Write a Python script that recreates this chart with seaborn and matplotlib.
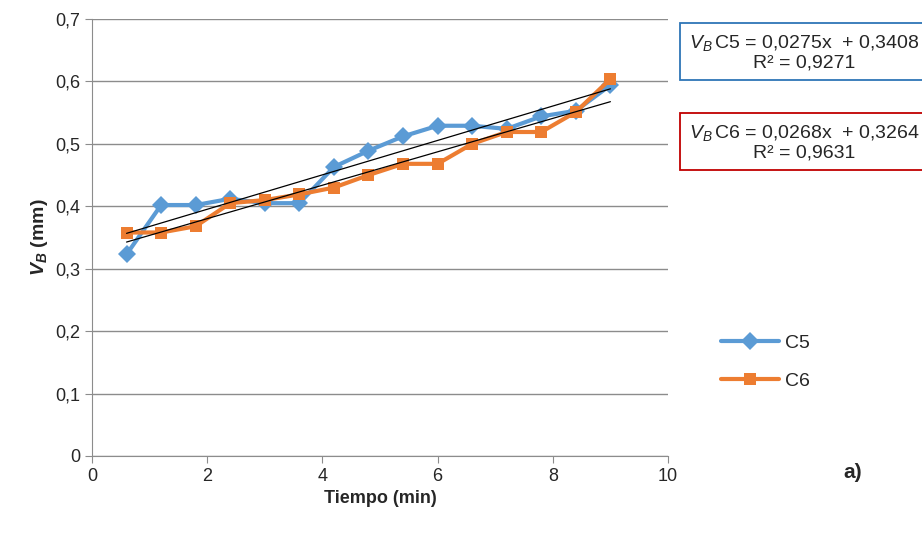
import numpy as np
import pandas as pd
import seaborn as sns
import matplotlib.pyplot as plt
from matplotlib.ticker import FuncFormatter

# tiempo de mecanizado (min) y desgaste VB (mm)
tiempo = [0.6, 1.2, 1.8, 2.4, 3.0, 3.6, 4.2, 4.8, 5.4, 6.0, 6.6, 7.2, 7.8, 8.4, 9.0]
vb_c5 = [0.323, 0.402, 0.402, 0.412, 0.405, 0.405, 0.463, 0.489, 0.512, 0.529, 0.529, 0.524, 0.544, 0.553, 0.594]
vb_c6 = [0.358, 0.358, 0.368, 0.405, 0.410, 0.419, 0.430, 0.450, 0.468, 0.468, 0.500, 0.519, 0.519, 0.551, 0.604]
ecuaciones = ["$V_B\\,$C5 = 0,0275x  + 0,3408\nR² = 0,9271",
              "$V_B\\,$C6 = 0,0268x  + 0,3264\nR² = 0,9631"]

sns.set_style("white")
plt.rcParams['font.family'] = ['Liberation Sans Narrow', 'Liberation Sans', 'DejaVu Sans']
plt.rcParams['mathtext.fontset'] = 'custom'
plt.rcParams['mathtext.it'] = 'Liberation Sans:italic'
plt.rcParams['mathtext.rm'] = 'Liberation Sans'
plt.rcParams['mathtext.bfit'] = 'Liberation Sans:italic:bold'
plt.rcParams['mathtext.bf'] = 'Liberation Sans:bold'

df = pd.DataFrame({'Tiempo': tiempo * 2,
                   'VB': vb_c5 + vb_c6,
                   'Serie': ['C5'] * len(tiempo) + ['C6'] * len(tiempo)})

fig = plt.figure(figsize=(9.22, 5.36), dpi=100)
ax = fig.add_axes([92 / 922, 1 - 456 / 536, 576 / 922, 437 / 536])

colores = {'C5': '#5B9BD5', 'C6': '#ED7D31'}
sns.lineplot(data=df, x='Tiempo', y='VB', hue='Serie', style='Serie',
             markers={'C5': 'D', 'C6': 's'}, dashes=False, palette=colores,
             linewidth=3, markersize=9, markeredgewidth=0, ax=ax)

# lineas de tendencia
for vals in (vb_c5, vb_c6):
    m, b = np.polyfit(tiempo, vals, 1)
    xs = np.array([tiempo[0], tiempo[-1]])
    ax.plot(xs, m * xs + b, color='black', linewidth=0.9, zorder=5)

ax.set_xlim(0, 10)
ax.set_ylim(0, 0.7)
ax.set_xticks(range(0, 11, 2))
ax.set_yticks(np.arange(0, 0.71, 0.1))
ax.yaxis.set_major_formatter(FuncFormatter(lambda v, p: ('%.1f' % v).replace('.', ',') if v > 0 else '0'))
ax.grid(axis='y', color='#8c8c8c', linewidth=1)
ax.set_axisbelow(True)
for s in ['top', 'right']:
    ax.spines[s].set_visible(False)
for s in ['left', 'bottom']:
    ax.spines[s].set_color('#8c8c8c')
ax.tick_params(axis='both', labelsize=13, direction='out', length=5, color='#8c8c8c', left=True, bottom=True)
ax.set_xlabel('Tiempo (min)', fontsize=13, fontweight='bold')
ax.set_ylabel(r'$\mathbfit{V}_\mathbfit{B}$ (mm)', fontsize=14, fontweight='bold', labelpad=4)

leg = ax.legend(loc='upper left', bbox_to_anchor=(703 / 922, 1 - 317 / 536), bbox_transform=fig.transFigure,
                frameon=False, fontsize=14, handlelength=3, labelspacing=1.05, handletextpad=0.3)

fig.text(0.997, 1 - 52 / 536, ecuaciones[0], ha='right', va='center', fontsize=14, multialignment='center',
         linespacing=1.1, bbox=dict(boxstyle='square,pad=0.45', fc='white', ec='#2E75B6', lw=1.3))
fig.text(0.997, 1 - 142 / 536, ecuaciones[1], ha='right', va='center', fontsize=14, multialignment='center',
         linespacing=1.1, bbox=dict(boxstyle='square,pad=0.45', fc='white', ec='#C00000', lw=1.3))
fig.text(853 / 922, 1 - 472 / 536, 'a)', fontsize=15, fontweight='bold', ha='center', va='center')

fig.savefig('out.png', dpi=100)
